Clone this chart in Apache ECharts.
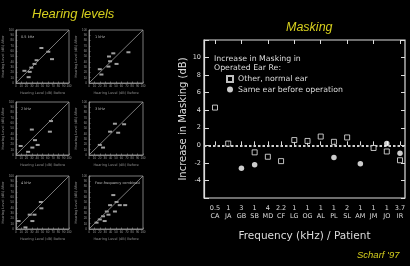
<!DOCTYPE html>
<html>
<head>
<meta charset="utf-8">
<script src="https://cdn.jsdelivr.net/npm/echarts@6/dist/echarts.min.js"></script>
<style>
  html, body { margin: 0; padding: 0; background: #000; }
  #main { width: 410px; height: 266px; }
</style>
</head>
<body>
<div id="main"></div>
<script>
  // Masking panel (right)
  var freqs    = ['0.5', '1', '3', '1', '4', '2.2', '1', '1', '1', '1', '2', '1', '1', '1', '3.7'];
  var patients = ['CA', 'JA', 'GB', 'SB', 'MD', 'CF', 'LG', 'OG', 'AL', 'PL', 'SL', 'AM', 'JM', 'JO', 'IR'];
  // null = no mark for that patient
  var otherEar = [4.3, 0.2, null, -0.8, -1.3, -1.8, 0.6, 0.5, 1.0, 0.4, 0.9, null, -0.3, -0.7, -1.7];
  var sameEar  = [null, null, -2.6, -2.2, null, null, null, null, null, -1.4, null, -2.1, null, 0.2, -0.9];
  var yTicks   = [-6, 12];   // range of the masking axis

  // Hearing level panels (left) : [before, after] in dB
  var panelNames = ['0.5 kHz', '1 kHz', '2 kHz', '3 kHz', '4 kHz', 'Four-frequency combined'];
  var hl05 = [[48, 66], [61, 59], [68, 45], [39, 43], [35, 36], [29, 29], [16, 23], [26, 21], [24, 11]];
  var hl1  = [[73, 58], [45, 56], [37, 50], [39, 41], [51, 36], [36, 31], [20, 26], [23, 16]];
  var hl2  = [[66, 64], [30, 48], [64, 44], [36, 28], [41, 19], [9, 17], [31, 14], [23, 6]];
  var hl3  = [[48, 59], [65, 58], [39, 44], [54, 42], [20, 19], [26, 14]];
  var hl4  = [[47, 51], [48, 39], [26, 27], [35, 27], [31, 15], [5, 15], [18, 3]];
  var hlAll = [[45, 64], [39, 45], [57, 45], [67, 45], [33, 33], [48, 33], [26, 24], [20, 18],
               [14, 12], [29, 15], [36, 27], [51, 51]];
  var panelData = [hl05, hl1, hl2, hl3, hl4, hlAll];
  var diagonal = [[0, 0], [100, 100]];

  var chart = echarts.init(document.getElementById('main'));

  var txt = '#dcdcdc';
  var yellow = '#d6cf1e';
  var font = 'DejaVu Sans';

  // small panel layout
  var colLeft = [15, 89];
  var rowTop = [30, 102, 176];

  var grids = [], xAxes = [], yAxes = [], series = [], titles = [];

  titles.push({
    text: 'Hearing levels', left: 32, top: 8, padding: 0,
    textStyle: { color: yellow, fontSize: 13, fontStyle: 'italic', fontWeight: 'normal', fontFamily: 'Liberation Sans' }
  });
  titles.push({
    text: 'Masking', left: 286, top: 21, padding: 0,
    textStyle: { color: yellow, fontSize: 12.5, fontStyle: 'italic', fontWeight: 'normal', fontFamily: 'Liberation Sans' }
  });
  titles.push({
    text: "Scharf '97", left: 357, top: 250, padding: 0,
    textStyle: { color: yellow, fontSize: 9.5, fontStyle: 'italic', fontWeight: 'normal', fontFamily: 'Liberation Sans' }
  });

  for (var i = 0; i < 6; i++) {
    var l = colLeft[i % 2], t = rowTop[Math.floor(i / 2)];
    grids.push({ left: l, top: t, width: 54, height: 53, show: true, borderColor: '#999', borderWidth: 0.8 });
    xAxes.push({
      type: 'value', gridIndex: i, min: 0, max: 100, interval: 10,
      name: 'Hearing Level (dB) Before', nameLocation: 'middle', nameGap: 8,
      nameTextStyle: { color: '#888', fontSize: 3.5, fontFamily: font },
      axisLine: { lineStyle: { color: '#999', width: 0.8 } },
      axisTick: { inside: true, length: 1.5, lineStyle: { color: '#999', width: 0.6 } },
      axisLabel: { color: '#999', fontSize: 3, margin: 2 },
      splitLine: { show: false }
    });
    yAxes.push({
      type: 'value', gridIndex: i, min: 0, max: 100, interval: 10,
      name: 'Hearing Level (dB) After', nameLocation: 'middle', nameGap: 8,
      nameTextStyle: { color: '#888', fontSize: 3.5, fontFamily: font },
      axisLine: { lineStyle: { color: '#999', width: 0.8 } },
      axisTick: { inside: true, length: 1.5, lineStyle: { color: '#999', width: 0.6 } },
      axisLabel: { color: '#999', fontSize: 3, margin: 2 },
      splitLine: { show: false }
    });
    series.push({
      type: 'line', xAxisIndex: i, yAxisIndex: i, data: diagonal, symbol: 'none', silent: true,
      lineStyle: { color: '#999', width: 0.8 }
    });
    series.push({
      type: 'scatter', xAxisIndex: i, yAxisIndex: i, data: panelData[i], symbol: 'rect', symbolSize: [4, 2],
      itemStyle: { color: '#c8c8c8' }
    });
    titles.push({
      text: panelNames[i], left: l + 6, top: t + 5, padding: 0,
      textStyle: { color: '#bbb', fontSize: 3.5, fontWeight: 'normal', fontFamily: font }
    });
  }

  // masking chart: grid 6 = frame, grid 7 = category data area
  grids.push({ left: 204, top: 40, width: 201, height: 158, show: true, borderColor: txt, borderWidth: 1.2 });
  grids.push({ left: 215, top: 40, width: 185, height: 158 });

  xAxes.push({
    type: 'value', gridIndex: 6, min: 0, max: 1,
    name: 'Frequency (kHz) / Patient', nameLocation: 'middle', nameGap: 33,
    nameTextStyle: { color: txt, fontSize: 10.5, fontFamily: font },
    axisLine: { show: false }, axisTick: { show: false }, axisLabel: { show: false }, splitLine: { show: false }
  });
  var cats = freqs.map(function (f, k) { return f + '\n' + patients[k]; });
  xAxes.push({
    type: 'category', gridIndex: 7, data: cats, boundaryGap: false, position: 'bottom',
    axisLine: { show: false },
    axisTick: { inside: true, length: 4, lineStyle: { color: txt, width: 1 } },
    axisLabel: { interval: 0, color: txt, fontSize: 6.5, lineHeight: 8, margin: 6, fontFamily: font },
    splitLine: { show: false }
  });
  xAxes.push({
    type: 'category', gridIndex: 7, data: cats, boundaryGap: false, position: 'top',
    axisLine: { show: false },
    axisTick: { inside: true, length: 4, lineStyle: { color: txt, width: 1 } },
    axisLabel: { show: false }, splitLine: { show: false }
  });

  yAxes.push({
    type: 'value', gridIndex: 6, min: yTicks[0], max: yTicks[1], interval: 2,
    name: 'Increase in Masking (dB)', nameLocation: 'middle', nameGap: 13,
    nameTextStyle: { color: txt, fontSize: 10, fontFamily: font },
    axisLine: { lineStyle: { color: txt, width: 1.2 } },
    axisTick: { inside: true, length: 5, lineStyle: { color: txt, width: 1 } },
    axisLabel: {
      color: txt, fontSize: 6.5, margin: 3, fontFamily: font,
      formatter: function (v) { return (v <= yTicks[0] || v >= yTicks[1]) ? '' : v; }
    },
    splitLine: { show: false }
  });
  yAxes.push({
    type: 'value', gridIndex: 6, min: yTicks[0], max: yTicks[1], interval: 2, position: 'right',
    axisLine: { show: false },
    axisTick: { inside: true, length: 4, lineStyle: { color: txt, width: 1 } },
    axisLabel: { show: false }, splitLine: { show: false }
  });
  yAxes.push({
    type: 'value', gridIndex: 7, min: yTicks[0], max: yTicks[1], interval: 2, show: false
  });

  // dotted zero line across the whole frame
  series.push({
    type: 'line', xAxisIndex: 6, yAxisIndex: 6, data: [], silent: true,
    markLine: {
      silent: true, symbol: 'none', label: { show: false },
      lineStyle: { color: '#d0d0d0', type: [2.5, 2], width: 1.8 },
      data: [{ yAxis: 0 }]
    }
  });

  function dash(arr) { return arr.map(function (v) { return v == null ? '-' : v; }); }

  series.push({
    name: 'Other, normal ear', type: 'scatter', xAxisIndex: 7, yAxisIndex: 8,
    data: dash(otherEar), symbol: 'rect', symbolSize: 5, z: 5,
    itemStyle: { color: '#000', borderColor: '#eee', borderWidth: 1 }
  });
  series.push({
    name: 'Same ear before operation', type: 'scatter', xAxisIndex: 7, yAxisIndex: 8,
    data: dash(sameEar), symbol: 'circle', symbolSize: 5.5, z: 6,
    itemStyle: { color: '#fff' }
  });

  titles.push({
    text: 'Increase in Masking in\nOperated Ear Re:', left: 214, top: 54, padding: 0,
    textStyle: { color: txt, fontSize: 7.8, lineHeight: 9, fontWeight: 'normal', fontFamily: font }
  });

  var option = {
    backgroundColor: '#000',
    animation: false,
    title: titles,
    legend: {
      left: 226, top: 75, orient: 'vertical', padding: 0, itemGap: 2.5,
      itemWidth: 6, itemHeight: 6,
      textStyle: { color: txt, fontSize: 7.8, fontFamily: font },
      data: ['Other, normal ear', 'Same ear before operation']
    },
    grid: grids,
    xAxis: xAxes,
    yAxis: yAxes,
    series: series
  };
  chart.setOption(option);
</script>
</body>
</html>
